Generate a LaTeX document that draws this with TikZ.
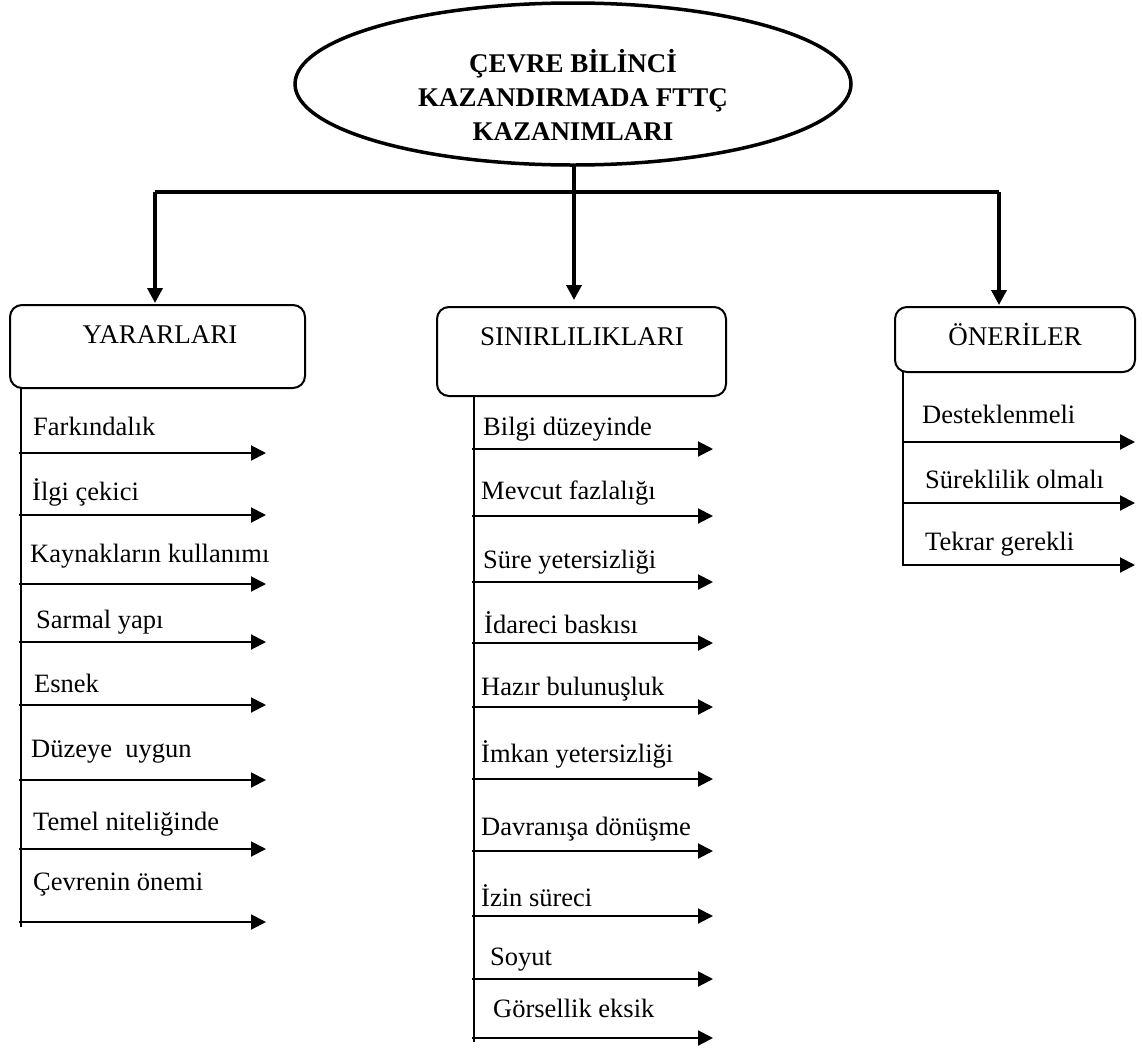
\documentclass[tikz,border=0pt]{standalone}
\usepackage{fontspec}
\setmainfont{Liberation Serif}
\usetikzlibrary{arrows.meta,shapes.geometric}
\begin{document}
\begin{tikzpicture}[x=1pt,y=-1pt,
  txt/.style={anchor=base west,inner sep=0pt,font=\fontsize{26.5}{30}\selectfont},
  hdbox/.style={draw,line width=2pt,rounded corners=12pt,inner sep=0pt},
  hdtxt/.style={anchor=base,inner sep=0pt,font=\fontsize{27}{30}\selectfont},
  feed/.style={line width=3.5pt},
  down/.style={line width=3.5pt,-{Triangle[length=15pt,width=15pt]}},
  spine/.style={line width=2pt},
  item/.style={line width=2pt,-{Triangle[length=15pt,width=15pt]}}]
\useasboundingbox (0,0) rectangle (1142,1050);

% root ellipse with the title
\node[draw,ellipse,line width=3.5pt,minimum width=556pt,minimum height=162pt,
      inner sep=0pt] (root) at (573,84) {};
\node[align=center,inner sep=0pt,font=\bfseries\fontsize{27}{34}\selectfont]
  (title) at (573,95) {ÇEVRE BİLİNCİ\\KAZANDIRMADA FTTÇ\\KAZANIMLARI};

% three heading boxes
\node[hdbox,minimum width=295pt,minimum height=83pt] (yar) at (157.5,346.5) {};
\node[hdtxt] (yart) at (160,343) {YARARLARI};
\node[hdbox,minimum width=289pt,minimum height=89pt] (sin) at (581.5,351.5) {};
\node[hdtxt] (sint) at (582,345) {SINIRLILIKLARI};
\node[hdbox,minimum width=240pt,minimum height=65pt] (one) at (1015,339.5) {};
\node[hdtxt] (onet) at (1015,345) {ÖNERİLER};

% distribution bar
\coordinate (jm) at (574,192);
\coordinate (jl) at (155,192);
\coordinate (jr) at (999,192);
\draw[feed] (root.south -| jm) -- (jm);
\draw[feed] (jl) -- (jr);
\draw[down] (jl) -- (jl |- 0,303);
\draw[down] (jm) -- (jm |- 0,300);
\draw[down] (jr) -- (jr |- 0,305);

% spines
\coordinate (Ltop) at (21,388);   \coordinate (Lbot) at (21,927);
\coordinate (Mtop) at (474,396);  \coordinate (Mbot) at (474,1042);
\coordinate (Rtop) at (903,372);  \coordinate (Rbot) at (903,566);
\draw[spine] (Ltop) -- (Lbot);
\draw[spine] (Mtop) -- (Mbot);
\draw[spine] (Rtop) -- (Rbot);

% benefits
\foreach \i/\ya/\yt/\xt/\t in {
  1/453/435/33/Farkındalık,
  2/515/500/32/İlgi çekici,
  3/584/562/30/Kaynakların kullanımı,
  4/642/628/36/Sarmal yapı,
  5/705/692/34/Esnek,
  6/780/757/31/Düzeye~~uygun,
  7/849/830/33/Temel niteliğinde,
  8/922/890/33/Çevrenin önemi}{
  \coordinate (La\i) at (19,\ya);
  \coordinate (Lb\i) at (266,\ya);
  \draw[item] (La\i) -- (Lb\i);
  \node[txt] (Lt\i) at (\xt,\yt) {\t};
}

% limitations
\foreach \i/\ya/\yt/\xt/\t in {
  1/449/435/483/Bilgi düzeyinde,
  2/516/499/481/Mevcut fazlalığı,
  3/582/568/483/Süre yetersizliği,
  4/643/633/484/İdareci baskısı,
  5/707/695/481/Hazır bulunuşluk,
  6/779/762/481/İmkan yetersizliği,
  7/851/835/481/Davranışa dönüşme,
  8/916/906/481/İzin süreci,
  9/979/965/490/Soyut,
  10/1038/1017/493/Görsellik eksik}{
  \coordinate (Ma\i) at (472,\ya);
  \coordinate (Mb\i) at (713,\ya);
  \draw[item] (Ma\i) -- (Mb\i);
  \node[txt] (Mt\i) at (\xt,\yt) {\t};
}

% suggestions
\foreach \i/\ya/\yt/\xt/\t in {
  1/442/423/922/Desteklenmeli,
  2/503/488/925/Süreklilik olmalı,
  3/565/550/925/Tekrar gerekli}{
  \coordinate (Ra\i) at (902,\ya);
  \coordinate (Rb\i) at (1135,\ya);
  \draw[item] (Ra\i) -- (Rb\i);
  \node[txt] (Rt\i) at (\xt,\yt) {\t};
}
\end{tikzpicture}
\end{document}
